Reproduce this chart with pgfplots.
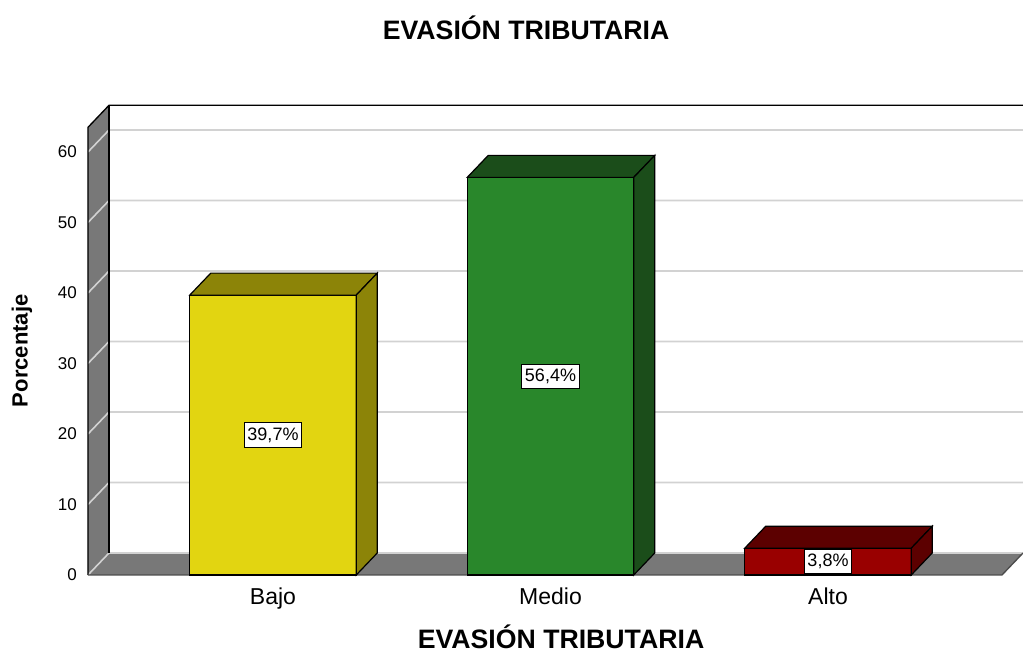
\documentclass[border=0pt]{standalone}
\usepackage{pgfplots}
\pgfplotsset{compat=1.18}
\usepackage{fontspec}
\setmainfont{Liberation Sans}
\definecolor{wallgray}{HTML}{787878}
\definecolor{gridc}{HTML}{D2D2D2}
\definecolor{yelF}{HTML}{E2D511}
\definecolor{yelD}{HTML}{8C8408}
\definecolor{grnF}{HTML}{29872B}
\definecolor{grnD}{HTML}{1B4D1A}
\definecolor{redF}{HTML}{990000}
\definecolor{redD}{HTML}{5C0000}

\begin{document}
\begin{tikzpicture}
\begin{axis}[
  x=208.125pt, y=5.2875pt,
  xmin=-0.6667, xmax=2.7027, ymin=0, ymax=66.62,
  axis line style={draw=none}, tick style={draw=none},
  clip=false,
  xtick={0,1,2}, xticklabels={Bajo,Medio,Alto},
  ytick={0,10,...,60},
  /pgf/number format/assume math mode=true,
  yticklabel style={font=\fontsize{12.75}{14}\selectfont, anchor=east, inner sep=0pt, xshift=-8.25pt},
  xticklabel style={font=\fontsize{17.25}{19}\selectfont, anchor=north, inner sep=0pt, yshift=-9.75pt},
]
% walls
\addplot[fill=wallgray, draw=none] coordinates {(-0.6667,0)(-0.6667,63.5)(-0.591,66.62)(-0.591,3.12)} -- cycle;
\addplot[fill=wallgray, draw=none] coordinates {(-0.6667,0)(-0.591,3.12)(2.7027,3.12)(2.627,0)} -- cycle;
% grid
\addplot[gridc, line width=1.2pt] coordinates {(-0.6667,0)(-0.591,3.12)(2.7027,3.12)};
\addplot[gridc, line width=1.2pt] coordinates {(-0.6667,10)(-0.591,13.12)(2.7027,13.12)};
\addplot[gridc, line width=1.2pt] coordinates {(-0.6667,20)(-0.591,23.12)(2.7027,23.12)};
\addplot[gridc, line width=1.2pt] coordinates {(-0.6667,30)(-0.591,33.12)(2.7027,33.12)};
\addplot[gridc, line width=1.2pt] coordinates {(-0.6667,40)(-0.591,43.12)(2.7027,43.12)};
\addplot[gridc, line width=1.2pt] coordinates {(-0.6667,50)(-0.591,53.12)(2.7027,53.12)};
\addplot[gridc, line width=1.2pt] coordinates {(-0.6667,60)(-0.591,63.12)(2.7027,63.12)};
% outlines
\addplot[black, line width=1pt] coordinates {(-0.6667,0)(-0.6667,63.5)(-0.591,66.62)(2.7027,66.62)};
\addplot[black, line width=1pt] coordinates {(-0.591,3.12)(-0.591,66.62)};
\addplot[black!70, line width=1pt] coordinates {(-0.6667,0)(2.627,0)(2.7027,3.12)};
% bars: front, top, side
\addplot[fill=yelF, draw=black, line width=0.9pt] coordinates {(-0.3,0)(0.3,0)(0.3,39.7)(-0.3,39.7)} -- cycle;
\addplot[fill=yelD, draw=black, line width=0.9pt] coordinates {(-0.3,39.7)(0.3,39.7)(0.3757,42.82)(-0.2243,42.82)} -- cycle;
\addplot[fill=yelD, draw=black, line width=0.9pt] coordinates {(0.3,0)(0.3757,3.12)(0.3757,42.82)(0.3,39.7)} -- cycle;
\addplot[fill=grnF, draw=black, line width=0.9pt] coordinates {(0.7,0)(1.3,0)(1.3,56.4)(0.7,56.4)} -- cycle;
\addplot[fill=grnD, draw=black, line width=0.9pt] coordinates {(0.7,56.4)(1.3,56.4)(1.3757,59.52)(0.7757,59.52)} -- cycle;
\addplot[fill=grnD, draw=black, line width=0.9pt] coordinates {(1.3,0)(1.3757,3.12)(1.3757,59.52)(1.3,56.4)} -- cycle;
\addplot[fill=redF, draw=black, line width=0.9pt] coordinates {(1.7,0)(2.3,0)(2.3,3.8)(1.7,3.8)} -- cycle;
\addplot[fill=redD, draw=black, line width=0.9pt] coordinates {(1.7,3.8)(2.3,3.8)(2.3757,6.92)(1.7757,6.92)} -- cycle;
\addplot[fill=redD, draw=black, line width=0.9pt] coordinates {(2.3,0)(2.3757,3.12)(2.3757,6.92)(2.3,3.8)} -- cycle;
% value labels
\addplot[draw=none, mark=none, point meta=explicit symbolic, nodes near coords,
  every node near coord/.append style={anchor=center, draw=black, fill=white, line width=0.8pt,
    font=\fontsize{13.5}{15}\selectfont, inner xsep=2.5pt, inner ysep=3.5pt}]
  coordinates {(0,19.85)[39,7\%] (1,28.2)[56,4\%] (2,1.9)[3,8\%]};
% titles
\node[font=\bfseries\fontsize{20}{24}\selectfont] at (axis cs:0.912,77.6) {EVASIÓN TRIBUTARIA};
\node[font=\bfseries\fontsize{20}{24}\selectfont] at (axis cs:1.038,-8.7) {EVASIÓN TRIBUTARIA};
\node[rotate=90, font=\bfseries\fontsize{16.5}{20}\selectfont] at (axis cs:-0.9045,31.8) {Porcentaje};
\coordinate (BL) at (axis cs:-0.9838,-10.92);
\coordinate (TR) at (axis cs:2.7027,81.56);
\end{axis}
\pgfresetboundingbox
\path (BL) rectangle (TR);
\end{tikzpicture}
\end{document}
